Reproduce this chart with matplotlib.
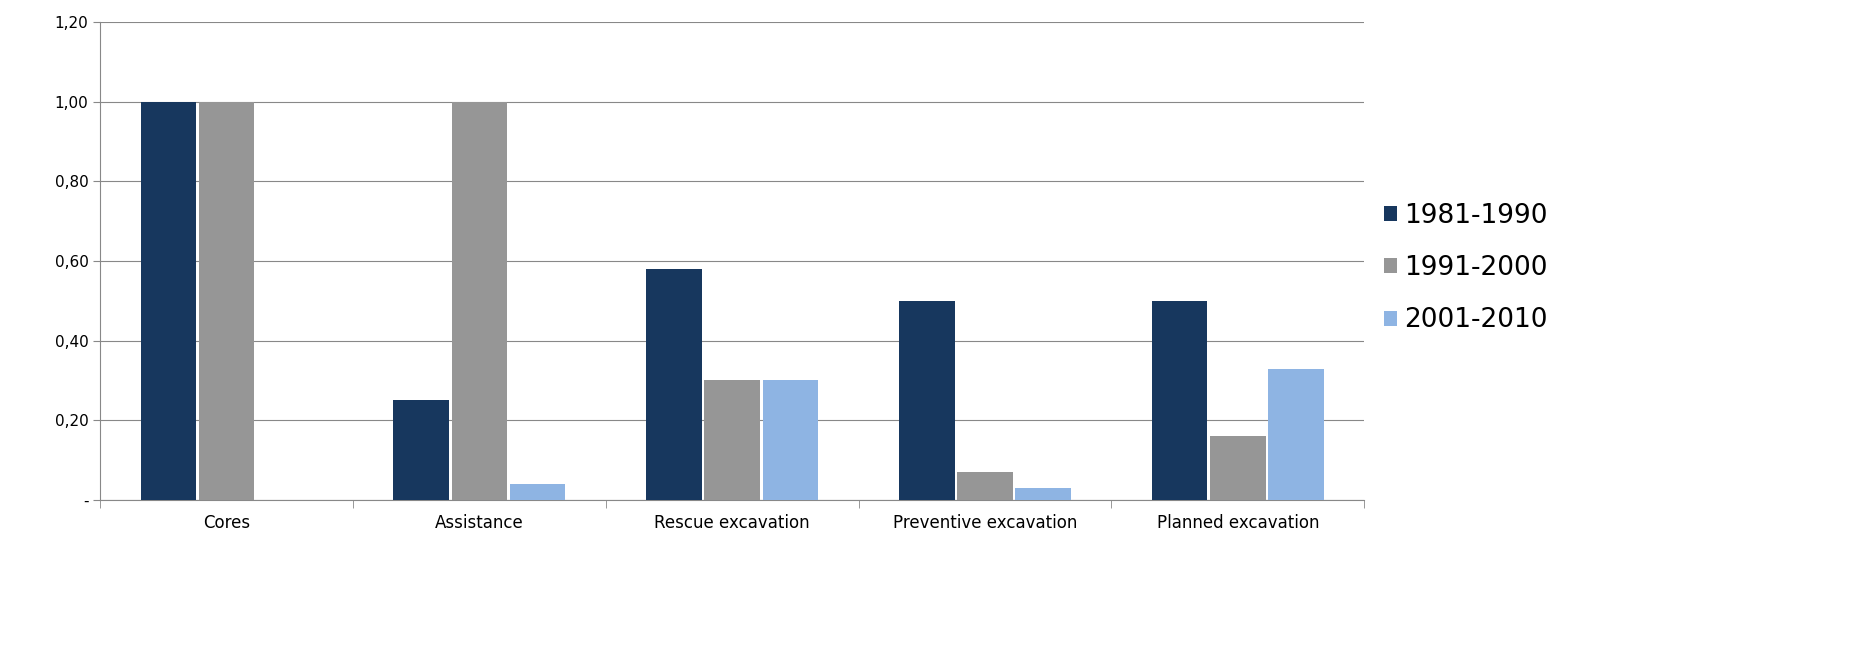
import matplotlib
matplotlib.use("Agg")
import matplotlib.pyplot as plt
import numpy as np

categories = ["Cores", "Assistance", "Rescue excavation", "Preventive excavation", "Planned excavation"]
series_names = ["1981-1990", "1991-2000", "2001-2010"]
s1981 = [1.00, 0.25, 0.58, 0.50, 0.50]
s1991 = [1.00, 1.00, 0.30, 0.07, 0.16]
s2001 = [0.00, 0.04, 0.30, 0.03, 0.33]
yticks = [0, 0.2, 0.4, 0.6, 0.8, 1.0, 1.2]
ytick_labels = ["-", "0,20", "0,40", "0,60", "0,80", "1,00", "1,20"]
colors = ["#17375E", "#969696", "#8EB4E3"]

fig = plt.figure(figsize=(18.56, 6.46), dpi=100)
ax = fig.add_axes([0.054, 0.226, 0.681, 0.74])
x = np.arange(len(categories))
w = 0.22
for i, (vals, name, c) in enumerate(zip([s1981, s1991, s2001], series_names, colors)):
    ax.bar(x + (i - 1) * (w + 0.01), vals, width=w, color=c, label=name, zorder=3)
ax.set_xlim(-0.5, len(categories) - 0.5)
ax.set_ylim(0, 1.2)
ax.set_yticks(yticks)
ax.set_yticklabels(ytick_labels, fontsize=11)
ax.set_xticks(x)
ax.set_xticklabels(categories, fontsize=12)
ax.set_xticks(np.arange(-0.5, len(categories)), minor=True)
ax.tick_params(axis='x', which='major', length=0, pad=10)
ax.tick_params(axis='x', which='minor', length=6, color="#888888")
ax.tick_params(axis='y', length=5, color="#888888")
ax.grid(axis='y', color="#888888", linewidth=0.8, zorder=0)
for s in ["top", "right"]:
    ax.spines[s].set_visible(False)
ax.spines["left"].set_color("#888888")
ax.spines["bottom"].set_color("#888888")
fig.legend(*ax.get_legend_handles_labels(), loc="center left", bbox_to_anchor=(0.733, 0.585),
           frameon=False, fontsize=19, handlelength=0.5, handleheight=0.5,
           handletextpad=0.25, labelspacing=1.0)
fig.savefig("out.png", dpi=100)
